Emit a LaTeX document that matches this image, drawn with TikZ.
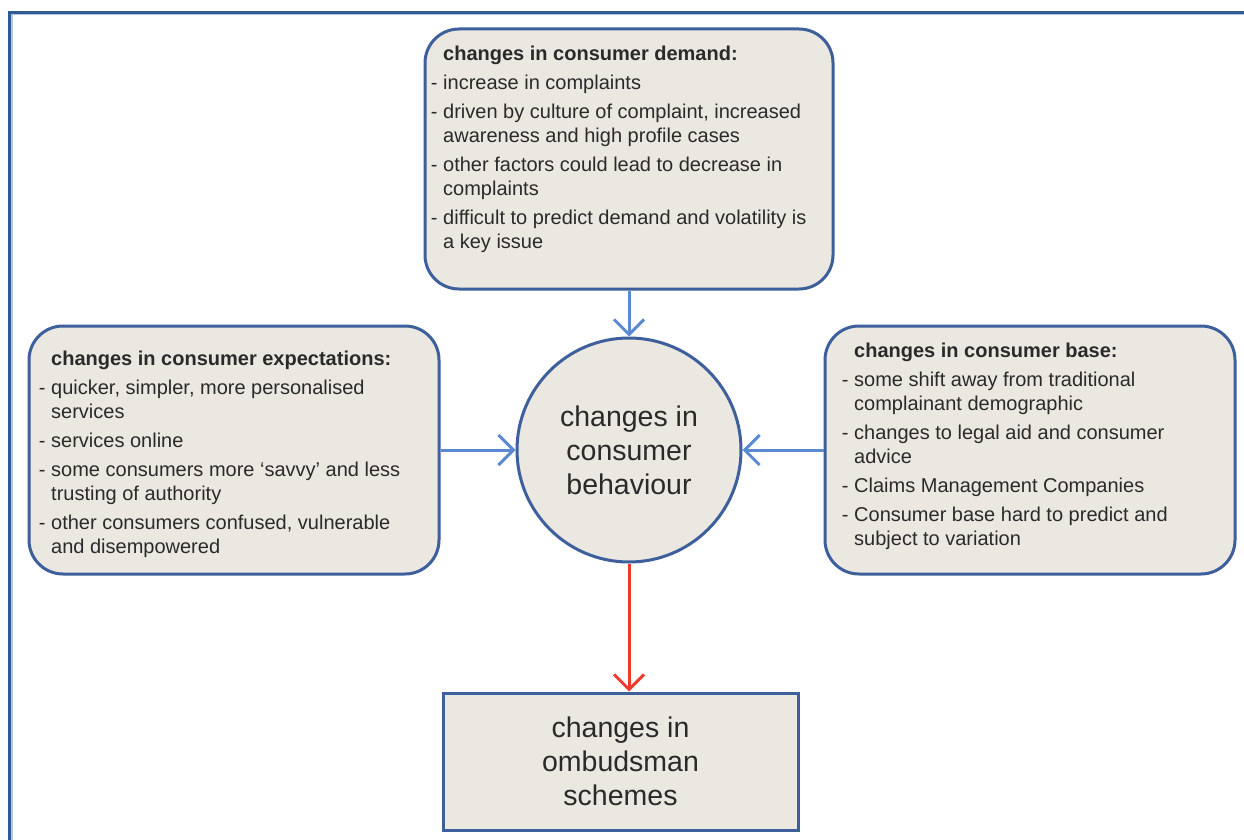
\documentclass[tikz,border=0pt]{standalone}
\usepackage{fontspec}
\setmainfont{Liberation Sans}
\usetikzlibrary{arrows.meta}
\definecolor{framedark}{HTML}{2F5B95}
\definecolor{framelt}{HTML}{B4C3DE}
\definecolor{bord}{HTML}{3D5F9C}
\definecolor{boxfill}{HTML}{EBE8E1}
\definecolor{arrblue}{HTML}{5A8BD2}
\definecolor{arrred}{HTML}{EE3B2D}
\definecolor{txt}{HTML}{2A2A2A}
\newcommand{\bl}{\llap{-\ }}
\newcommand{\tline}[1]{\hbox{#1}}
\newcommand{\gap}{\vskip5pt}
\begin{document}
\begin{tikzpicture}[x=1pt,y=-1pt,
  infobox/.style={draw=bord, line width=3pt, fill=boxfill, rounded corners=34pt, inner sep=0pt},
  bodytext/.style={anchor=base west, inner sep=0pt, text=txt, font=\fontsize{20}{24}\selectfont},
  bigtext/.style={align=center, text=txt, font=\fontsize{28.5}{34}\selectfont},
  bluearrow/.style={draw=arrblue, line width=3pt, -{Straight Barb[length=15pt,width=30pt]}},
  redarrow/.style={draw=arrred, line width=3pt, -{Straight Barb[length=15pt,width=30pt]}}]
\useasboundingbox (0,0) rectangle (1244,840);
\fill[white] (0,0) rectangle (1244,840);
% page frame
\draw[framelt, line width=1.2pt] (12,840) -- (12,14.8) -- (1244,14.8);
\draw[framedark, line width=3pt] (9.5,840) -- (9.5,12.7) -- (1244,12.7);

% boxes
\node[infobox, minimum width=408pt, minimum height=260pt] (dem) at (629,159) {};
\node[infobox, minimum width=410pt, minimum height=248pt] (exp) at (234,450) {};
\node[infobox, minimum width=410pt, minimum height=248pt] (base) at (1030,450) {};
\node[circle, draw=bord, line width=3pt, fill=boxfill, minimum size=224pt, inner sep=0pt, bigtext] (cb) at (629,450) {changes in\\consumer\\behaviour};
\node[rectangle, draw=bord, line width=3pt, fill=boxfill, minimum width=355pt, minimum height=137pt, inner sep=0pt, bigtext] (omb) at (620.5,761.5) {changes in\\ombudsman\\schemes};

% box texts
\node[bodytext] (demtxt) at (443,61) {\vtop{%
\tline{\textbf{changes in consumer demand:}}\gap
\tline{\bl increase in complaints}\gap
\tline{\bl driven by culture of complaint, increased}
\tline{awareness and high profile cases}\gap
\tline{\bl other factors could lead to decrease in}
\tline{complaints}\gap
\tline{\bl difficult to predict demand and volatility is}
\tline{a key issue}}};

\node[bodytext] (exptxt) at (51,365) {\vtop{%
\tline{\textbf{changes in consumer expectations:}}\gap
\tline{\bl quicker, simpler, more personalised}
\tline{services}\gap
\tline{\bl services online}\gap
\tline{\bl some consumers more ‘savvy’ and less}
\tline{trusting of authority}\gap
\tline{\bl other consumers confused, vulnerable}
\tline{and disempowered}}};

\node[bodytext] (basetxt) at (854,357) {\vtop{%
\tline{\textbf{changes in consumer base:}}\gap
\tline{\bl some shift away from traditional}
\tline{complainant demographic}\gap
\tline{\bl changes to legal aid and consumer}
\tline{advice}\gap
\tline{\bl Claims Management Companies}\gap
\tline{\bl Consumer base hard to predict and}
\tline{subject to variation}}};

% connectors
\draw[bluearrow] (dem.south) -- (cb.north);
\draw[bluearrow] (exp.east) -- (cb.west);
\draw[bluearrow] (base.west) -- (cb.east);
\draw[redarrow] (cb.south) -- (cb.south |- omb.north);
\end{tikzpicture}
\end{document}
